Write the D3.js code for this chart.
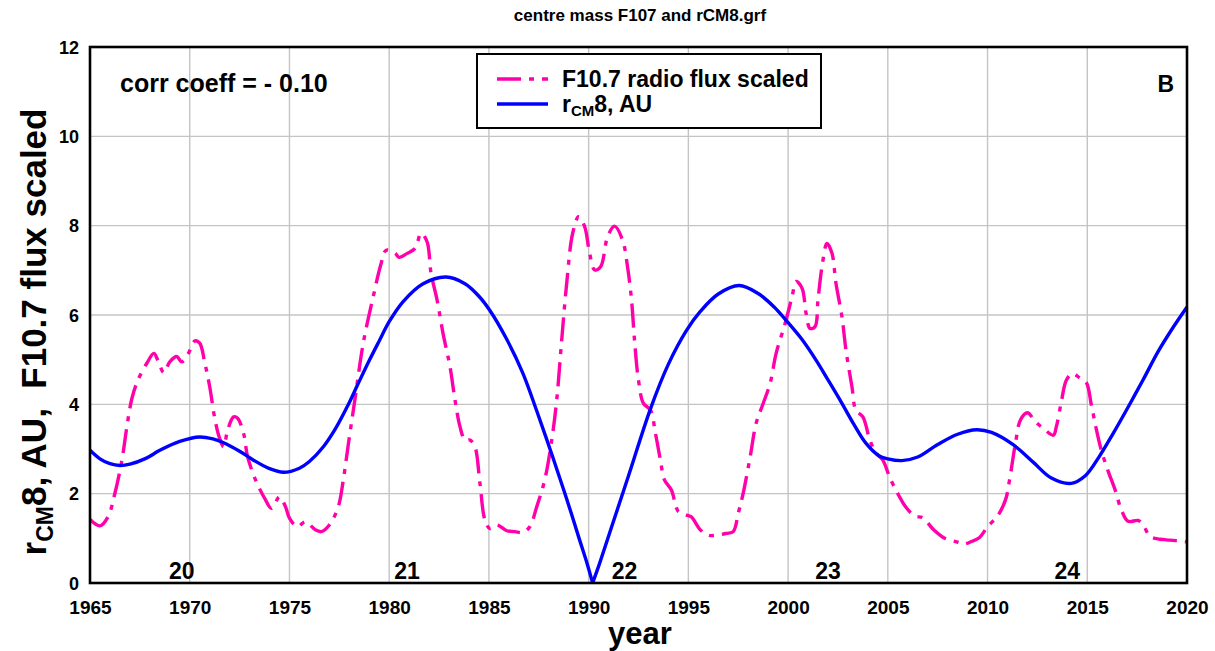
<!DOCTYPE html>
<html>
<head>
<meta charset="utf-8">
<script src="https://cdn.jsdelivr.net/npm/d3@7"></script>
<style>
  html, body { margin: 0; padding: 0; background: #fff; }
  svg { display: block; font-family: "Liberation Sans", Arial, sans-serif; font-weight: bold; }
</style>
</head>
<body>
<svg id="chart" width="1215" height="651"></svg>
<script>
// ---- data ----
const xTickValues = [1965, 1970, 1975, 1980, 1985, 1990, 1995, 2000, 2005, 2010, 2015, 2020];
const yTickValues = [0, 2, 4, 6, 8, 10, 12];

// F10.7 radio flux, scaled
const fluxYear = [
  1965.0, 1965.5, 1965.9, 1966.25, 1966.6, 1966.85, 1967.1, 1967.4, 1967.85, 1968.2,
  1968.4, 1968.7, 1969.0, 1969.35, 1969.6, 1969.93, 1970.26, 1970.5, 1970.76, 1971.0,
  1971.27, 1971.5, 1971.7, 1971.9, 1972.2, 1972.4, 1972.7, 1972.9, 1973.3, 1973.8,
  1974.1, 1974.5, 1974.8, 1975.0, 1975.4, 1975.8, 1976.3, 1976.6, 1977.0, 1977.45,
  1977.7, 1977.95, 1978.28, 1978.7, 1979.2, 1979.6, 1979.85, 1980.3, 1980.5, 1980.9,
  1981.3, 1981.6, 1981.9, 1982.1, 1982.4, 1982.7, 1983.05, 1983.3, 1983.55, 1983.8,
  1984.05, 1984.3, 1984.55, 1984.8, 1985.05, 1985.4, 1985.9, 1986.3, 1986.7, 1987.05,
  1987.4, 1987.8, 1988.15, 1988.4, 1988.65, 1988.9, 1989.2, 1989.5, 1989.8, 1990.05,
  1990.3, 1990.6, 1990.95, 1991.3, 1991.7, 1991.95, 1992.15, 1992.3, 1992.5, 1992.75,
  1993.1, 1993.35, 1993.6, 1993.8, 1994.15, 1994.5, 1994.9, 1995.15, 1995.6, 1996.0,
  1996.4, 1996.9, 1997.25, 1997.5, 1997.75, 1998.1, 1998.4, 1998.75, 1999.1, 1999.4,
  1999.85, 2000.2, 2000.4, 2000.7, 2000.9, 2001.1, 2001.35, 2001.5, 2001.7, 2001.95,
  2002.2, 2002.4, 2002.7, 2002.9, 2003.2, 2003.4, 2003.75, 2004.1, 2004.4, 2004.75,
  2005.1, 2005.5, 2005.9, 2006.35, 2006.75, 2007.3, 2007.85, 2008.45, 2008.8, 2009.2,
  2009.6, 2010.0, 2010.5, 2010.9, 2011.1, 2011.4, 2011.65, 2012.0, 2012.4, 2012.8,
  2013.3, 2013.45, 2013.7, 2013.95, 2014.25, 2014.6, 2014.95, 2015.2, 2015.45, 2015.7,
  2016.05, 2016.4, 2016.7, 2017.05, 2017.55, 2017.8, 2018.15, 2018.65, 2019.15, 2019.85,
  2020.0
];
const fluxValue = [
  1.42, 1.28, 1.48, 2.01, 2.75, 3.50, 4.13, 4.54, 4.92, 5.14,
  4.99, 4.71, 4.95, 5.07, 4.95, 5.14, 5.42, 5.37, 4.92, 4.40,
  3.65, 3.24, 3.05, 3.42, 3.72, 3.69, 3.35, 2.83, 2.31, 1.86,
  1.67, 1.93, 1.71, 1.45, 1.26, 1.37, 1.19, 1.15, 1.30, 1.71,
  2.31, 3.10, 4.10, 5.37, 6.41, 7.16, 7.45, 7.38, 7.29, 7.38,
  7.49, 7.83, 7.64, 6.93, 6.34, 5.59, 4.84, 4.10, 3.50, 3.20,
  3.20, 3.05, 2.23, 1.41, 1.22, 1.30, 1.17, 1.15, 1.13, 1.26,
  1.71, 2.31, 3.20, 4.10, 5.44, 6.71, 7.83, 8.20, 7.98, 7.38,
  7.01, 7.08, 7.75, 7.99, 7.68, 7.08, 6.34, 5.44, 4.54, 4.02,
  3.87, 3.35, 2.75, 2.31, 2.08, 1.60, 1.52, 1.48, 1.19, 1.07,
  1.07, 1.11, 1.15, 1.56, 2.01, 2.83, 3.58, 4.02, 4.47, 5.14,
  5.81, 6.41, 6.75, 6.60, 6.04, 5.70, 5.74, 6.34, 7.08, 7.60,
  7.38, 6.71, 5.96, 5.22, 4.40, 3.87, 3.72, 3.20, 2.92, 2.75,
  2.36, 2.00, 1.70, 1.50, 1.46, 1.19, 1.00, 0.92, 0.87, 0.93,
  1.02, 1.26, 1.50, 1.86, 2.30, 3.13, 3.65, 3.81, 3.61, 3.46,
  3.31, 3.50, 4.06, 4.54, 4.69, 4.60, 4.49, 4.00, 3.45, 2.98,
  2.50, 2.08, 1.65, 1.38, 1.40, 1.30, 1.04, 0.98, 0.96, 0.93,
  0.92
];

// distance of the solar-system centre of mass, rCM x 8 (AU)
const rcmYear = [
  1965.0, 1965.5, 1966.0, 1966.5, 1967.0, 1967.8, 1968.5, 1969.5, 1970.5, 1971.2,
  1971.7, 1972.5, 1973.2, 1974.0, 1974.7, 1975.5, 1976.0, 1976.7, 1977.3, 1977.9,
  1978.4, 1979.0, 1979.5, 1980.0, 1980.7, 1981.7, 1982.85, 1983.8, 1984.5, 1985.05,
  1985.9, 1986.7, 1987.4, 1988.2, 1988.9, 1989.55, 1989.9, 1990.2, 1990.55, 1991.2,
  1992.0, 1993.1, 1994.0, 1994.9, 1995.6, 1996.5, 1997.55, 1998.5, 1999.3, 1999.9,
  2000.7, 2001.4, 2002.0, 2002.6, 2003.3, 2003.9, 2004.55, 2005.0, 2005.7, 2006.5,
  2007.5, 2008.5, 2009.45, 2010.2, 2011.3, 2012.3, 2013.2, 2014.2, 2014.9, 2015.6,
  2016.3, 2017.1, 2017.8, 2018.55, 2019.3, 2020.0
];
const rcmValue = [
  2.97, 2.78, 2.67, 2.63, 2.66, 2.79, 2.97, 3.17, 3.27, 3.22,
  3.14, 2.95, 2.75, 2.56, 2.48, 2.57, 2.72, 3.05, 3.45, 3.95,
  4.42, 4.98, 5.42, 5.85, 6.30, 6.70, 6.85, 6.70, 6.42, 6.10,
  5.45, 4.70, 3.85, 2.82, 1.88, 0.96, 0.47, 0.00, 0.44, 1.32,
  2.40, 3.90, 4.90, 5.65, 6.08, 6.47, 6.66, 6.48, 6.18, 5.88,
  5.45, 4.99, 4.55, 4.10, 3.55, 3.13, 2.85, 2.78, 2.74, 2.82,
  3.10, 3.33, 3.43, 3.37, 3.09, 2.70, 2.35, 2.23, 2.40, 2.83,
  3.35, 3.98, 4.55, 5.18, 5.72, 6.18
];

// solar cycle numbers, placed at the year they are written
const cycleNumber = ["20", "21", "22", "23", "24"];
const cycleYear = [1969.6, 1980.9, 1991.8, 2002.0, 2014.0];

// ---- layout ----
const svg = d3.select("#chart");
const plotL = 90, plotR = 1187, plotT = 47, plotB = 583;
const x = d3.scaleLinear().domain([1965, 2020]).range([plotL, plotR]);
const y = d3.scaleLinear().domain([0, 12]).range([plotB, plotT]);

const pink = "#ff00aa";
const blue = "#0000ff";
const gridColor = "#c4c4c4";
const dashDot = "24,8,5,8";

// grid
const g = svg.append("g");
g.selectAll("line.vx").data(xTickValues).join("line")
  .attr("x1", d => x(d)).attr("x2", d => x(d))
  .attr("y1", plotT).attr("y2", plotB)
  .attr("stroke", gridColor).attr("stroke-width", 1.4);
g.selectAll("line.hy").data(yTickValues).join("line")
  .attr("x1", plotL).attr("x2", plotR)
  .attr("y1", d => y(d)).attr("y2", d => y(d))
  .attr("stroke", gridColor).attr("stroke-width", 1.4);

// axes (labels only, frame drawn separately)
const xAxis = d3.axisBottom(x).tickValues(xTickValues).tickFormat(d3.format("d")).tickSize(0).tickPadding(0);
const yAxis = d3.axisLeft(y).tickValues(yTickValues).tickSize(0).tickPadding(0);

const gx = svg.append("g").attr("transform", `translate(0,${plotB})`).call(xAxis);
gx.select(".domain").remove();
gx.selectAll("text").attr("font-size", 19).attr("font-family", "Liberation Sans, Arial, sans-serif")
  .attr("font-weight", "bold").attr("fill", "#000").attr("dy", null).attr("y", 31);

const gy = svg.append("g").attr("transform", `translate(${plotL - 11},0)`).call(yAxis);
gy.select(".domain").remove();
gy.selectAll("text").attr("font-size", 18).attr("font-family", "Liberation Sans, Arial, sans-serif")
  .attr("font-weight", "bold").attr("fill", "#000").attr("x", 0).attr("dy", "0.35em");

// series
const fluxLine = d3.line()
  .x((d, i) => x(fluxYear[i])).y(d => y(d))
  .curve(d3.curveCatmullRom.alpha(0.5));
svg.append("path").datum(fluxValue)
  .attr("d", fluxLine)
  .attr("fill", "none").attr("stroke", pink).attr("stroke-width", 3.4)
  .attr("stroke-dasharray", dashDot);

// the rCM curve has a cusp where it touches zero: draw each branch on its own
const rcmPts = rcmYear.map((yr, i) => [yr, rcmValue[i]]);
const cusp = rcmValue.indexOf(d3.min(rcmValue));
const rcmLine = d3.line().x(d => x(d[0])).y(d => y(d[1])).curve(d3.curveCatmullRom.alpha(0.5));
[rcmPts.slice(0, cusp + 1), rcmPts.slice(cusp)].forEach(branch => {
  svg.append("path").datum(branch)
    .attr("d", rcmLine)
    .attr("fill", "none").attr("stroke", blue).attr("stroke-width", 3.4)
    .attr("stroke-linejoin", "round");
});

// frame
svg.append("rect")
  .attr("x", plotL).attr("y", plotT).attr("width", plotR - plotL).attr("height", plotB - plotT)
  .attr("fill", "none").attr("stroke", "#000").attr("stroke-width", 2.6);

// cycle numbers
svg.selectAll("text.cycle").data(cycleNumber).join("text")
  .attr("x", (d, i) => x(cycleYear[i])).attr("y", 579)
  .attr("text-anchor", "middle").attr("font-size", 23).text(d => d);

// title
svg.append("text").attr("x", 640).attr("y", 21).attr("text-anchor", "middle")
  .attr("font-size", 17).text("centre mass F107 and rCM8.grf");

// annotations
svg.append("text").attr("x", 120).attr("y", 92).attr("font-size", 25).text("corr coeff = - 0.10");
svg.append("text").attr("x", 1174).attr("y", 92).attr("text-anchor", "end").attr("font-size", 23).text("B");

// legend
const lg = svg.append("g");
lg.append("rect").attr("x", 477).attr("y", 54).attr("width", 344).attr("height", 74)
  .attr("fill", "#fff").attr("stroke", "#000").attr("stroke-width", 2);
lg.append("line").attr("x1", 497).attr("x2", 548).attr("y1", 79).attr("y2", 79)
  .attr("stroke", pink).attr("stroke-width", 3.4).attr("stroke-dasharray", dashDot);
lg.append("line").attr("x1", 497).attr("x2", 548).attr("y1", 104).attr("y2", 104)
  .attr("stroke", blue).attr("stroke-width", 3.4);
lg.append("text").attr("x", 562).attr("y", 87).attr("font-size", 23).text("F10.7 radio flux scaled");
const lt = lg.append("text").attr("x", 562).attr("y", 112).attr("font-size", 23);
lt.append("tspan").text("r");
lt.append("tspan").attr("font-size", 15).attr("dy", 4).text("CM");
lt.append("tspan").attr("dy", -4).text("8, AU");

// axis titles
svg.append("text").attr("x", 640).attr("y", 644).attr("text-anchor", "middle")
  .attr("font-size", 31).text("year");
const yt = svg.append("text")
  .attr("transform", "translate(46,332) rotate(-90)")
  .attr("text-anchor", "middle").attr("font-size", 35)
  .style("white-space", "pre");
yt.append("tspan").text("r");
yt.append("tspan").attr("font-size", 23).attr("dy", 7).text("CM");
yt.append("tspan").attr("dy", -7).text("8, AU,  F10.7 flux scaled");
</script>
</body>
</html>
